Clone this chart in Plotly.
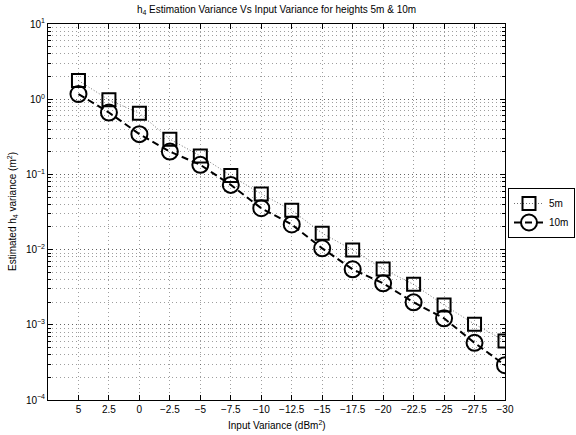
import plotly.graph_objects as go

input_variance = [5, 2.5, 0, -2.5, -5, -7.5, -10, -12.5, -15, -17.5, -20, -22.5, -25, -27.5, -30]
var_5m = [1.77, 0.98, 0.65, 0.294, 0.176, 0.0964, 0.055, 0.0333, 0.0165, 0.0099,
          0.0055, 0.00345, 0.00183, 0.00102, 0.00061]
var_10m = [1.17, 0.665, 0.343, 0.201, 0.134, 0.0725, 0.0355, 0.0216, 0.0104, 0.00547,
           0.00356, 0.00199, 0.00122, 0.000575, 0.00029]
x_tick_labels = ["5", "2.5", "0", "\u22122.5", "\u22125", "\u22127.5", "\u221210", "\u221212.5",
                 "\u221215", "\u221217.5", "\u221220", "\u221222.5", "\u221225", "\u221227.5", "\u221230"]
y_tick_vals = [1e-4, 1e-3, 1e-2, 1e-1, 1e0, 1e1]
y_tick_labels = ["10<sup>\u22124</sup>", "10<sup>\u22123</sup>", "10<sup>\u22122</sup>",
                 "10<sup>\u22121</sup>", "10<sup>0</sup>", "10<sup>1</sup>"]

FONT = "Liberation Sans, Arial, Helvetica, sans-serif"
GRID = "rgba(0,0,0,0.38)"
GDASH = "1px,3px"

fig = go.Figure()
fig.add_trace(go.Scatter(
    x=input_variance, y=var_5m, name="5m", mode="lines+markers",
    line=dict(color="rgba(0,0,0,0.55)", width=1, dash="1px,2px"),
    marker=dict(symbol="square-open", size=13, color="black", line=dict(width=2, color="black")),
))
fig.add_trace(go.Scatter(
    x=input_variance, y=var_10m, name="10m", mode="lines+markers",
    line=dict(color="black", width=2, dash="7px,4px"),
    marker=dict(symbol="circle-open", size=16, color="black", line=dict(width=2, color="black")),
))

W, H = 576, 435
L, R, T, B = 48, 71, 24, 35
PW, PH = W - L - R, H - T - B

fig.update_layout(
    width=W, height=H,
    margin=dict(l=L, r=R, t=T, b=B, pad=0, autoexpand=False),
    paper_bgcolor="white", plot_bgcolor="white",
    font=dict(family=FONT, size=10, color="black"),
    title=dict(text="h<sub>4</sub> Estimation Variance Vs Input Variance for heights 5m &amp; 10m",
               x=(L + (W - R)) / 2 / W, xanchor="center", xref="container",
               y=1 - 6 / H, yanchor="top", yref="container",
               font=dict(family=FONT, size=10, color="black")),
    showlegend=True,
    legend=dict(x=(575 - L) / PW, xanchor="right", y=(H - B - 188) / PH, yanchor="top",
                xref="paper", yref="paper",
                bordercolor="black", borderwidth=1, bgcolor="white",
                font=dict(family=FONT, size=10), tracegroupgap=0, itemwidth=30),
    annotations=[
        dict(text="Input Variance (dBm<sup>2</sup>)", xref="paper", yref="paper",
             x=0.5, y=-(425 - (H - B)) / PH, xanchor="center", yanchor="middle",
             showarrow=False, font=dict(family=FONT, size=10)),
        dict(text="Estimated h<sub>4</sub> variance (m<sup>2</sup>)", xref="paper", yref="paper",
             x=-(L - 12) / PW, y=0.5, xanchor="center", yanchor="middle", textangle=-90,
             showarrow=False, font=dict(family=FONT, size=10)),
    ],
)

fig.update_xaxes(
    range=[7.5, -30], tickmode="array", tickvals=input_variance, ticktext=x_tick_labels,
    showgrid=True, gridcolor=GRID, griddash=GDASH, gridwidth=1,
    showline=True, linecolor="black", linewidth=1, mirror="ticks",
    ticks="inside", ticklen=5, tickcolor="black", zeroline=False,
    tickfont=dict(family=FONT, size=10),
)
fig.update_yaxes(
    type="log", range=[-4, 1], tickmode="array", tickvals=y_tick_vals, ticktext=y_tick_labels,
    showgrid=True, gridcolor=GRID, griddash=GDASH, gridwidth=1,
    showline=True, linecolor="black", linewidth=1, mirror="ticks",
    ticks="inside", ticklen=5, tickcolor="black", zeroline=False,
    tickfont=dict(family=FONT, size=10),
    minor=dict(dtick="D1", showgrid=True, gridcolor=GRID, griddash=GDASH, gridwidth=1,
               ticks="inside", ticklen=3, tickcolor="black"),
)

fig.write_html("out.html")
